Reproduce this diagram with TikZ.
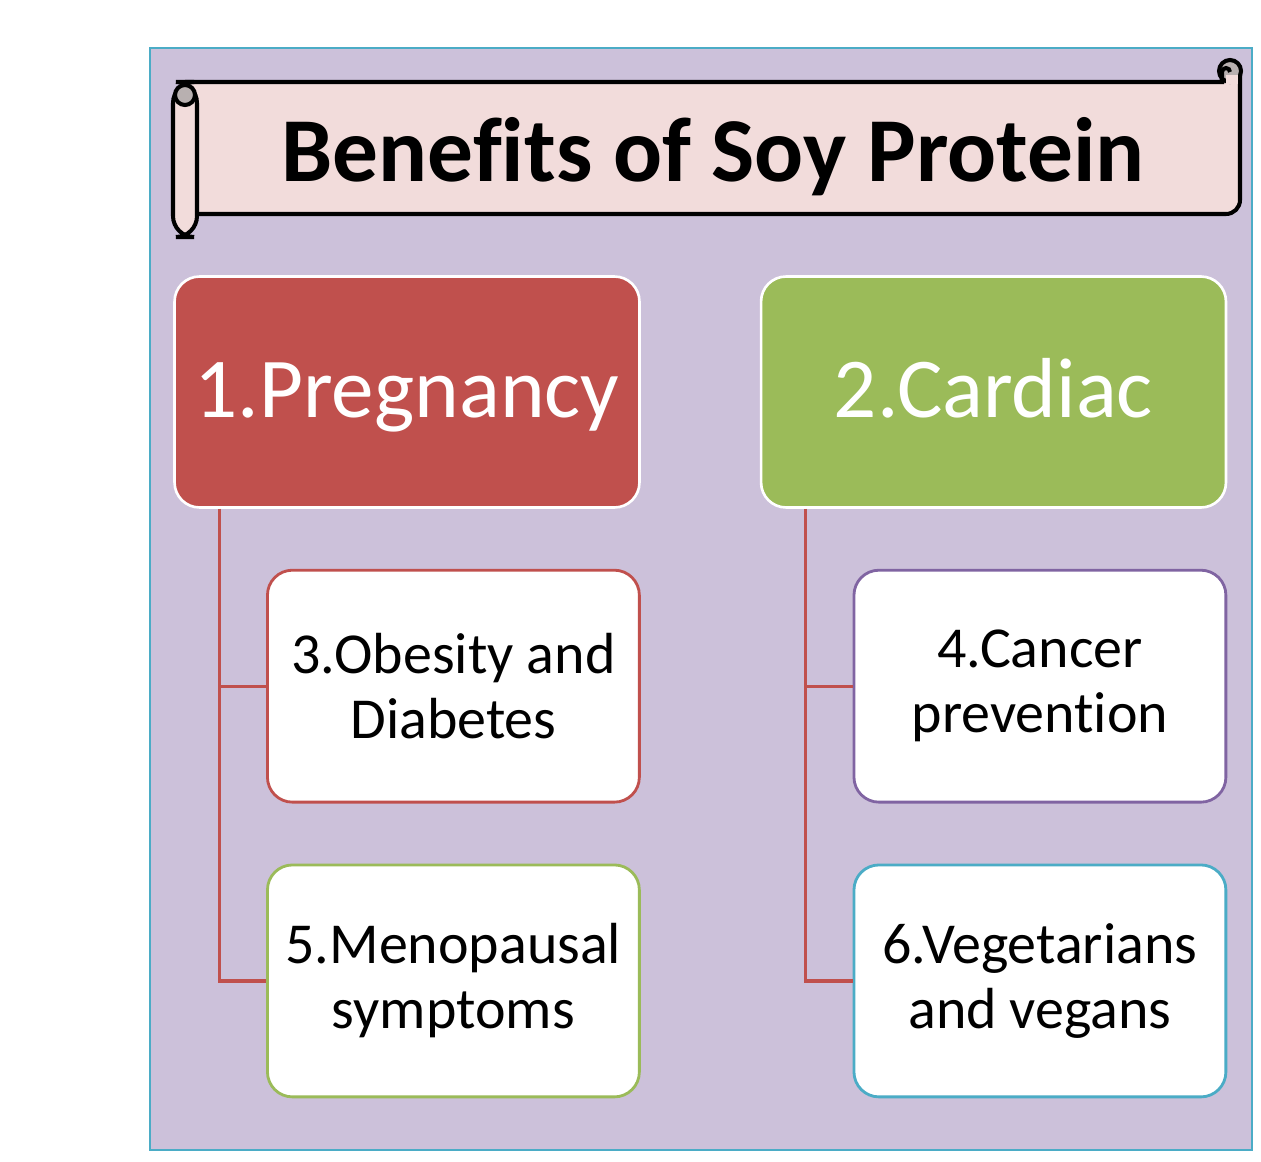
\documentclass[tikz,border=0pt]{standalone}
\usepackage{fontspec}
\setmainfont{Carlito}[Ligatures=CommonOff]
\usetikzlibrary{positioning,calc}
\definecolor{lavenda}{HTML}{CCC1DA}
\definecolor{cornice}{HTML}{4BACC6}
\definecolor{rosso}{HTML}{C0504D}
\definecolor{verde}{HTML}{9BBB59}
\definecolor{viola}{HTML}{8064A2}
\definecolor{rosa}{HTML}{F2DCDB}
\definecolor{grigio}{HTML}{B8B0B0}
\tikzset{main base/.style={rounded corners=0.5cm,text centered,align=center}, }
\tikzset{main node/.style={main base,draw=white,line width=1.5pt,
    minimum width=9.3cm,minimum height=4.62cm,text=white,
    text height=1.3cm,text depth=0.26cm,
    font=\fontsize{48.5}{54}\selectfont}, }
\tikzset{main node2/.style={main base,fill=white,line width=1.6pt,
    minimum width=7.44cm,minimum height=4.64cm,
    font=\fontsize{33}{37}\selectfont}, }
\tikzset{linea/.style={draw=rosso,line width=1.8pt}}
\tikzset{rotolo/.style={draw=black,line width=2.3pt,fill=rosa}}
\begin{document}
\begin{tikzpicture}[x=0.02cm,y=-0.02cm]
  \useasboundingbox (0,0) rectangle (1261,1162);
  % fondo
  \draw[fill=lavenda,draw=cornice,line width=1.2pt] (150,48) rectangle (1252,1150);
  % pergamena
  \draw[rotolo] (185,82) -- (1222,82) -- (1222,72) -- (1240,72) -- (1240,200)
     arc[start angle=0,end angle=90,radius=14] -- (197,214);
  \draw[line width=2.3pt,fill=grigio] (1230,71) circle (11);
  \fill[rosa] (1226,75) rectangle (1238,84);
  \draw[line width=2.3pt] (1222,84) -- (1222,72) arc[start angle=180,end angle=360,radius=4];
  \draw[rotolo,rounded corners=12] (173,82) rectangle (197,237);
  \draw[line width=2.3pt,fill=grigio] (185,95) circle (10);
  \node[anchor=base,font=\fontsize{52}{58}\selectfont\bfseries] (0) at (713,182) {Benefits of Soy Protein};
  %
  \node[main node,fill=rosso] (1) at (407,392) {1.Pregnancy};
  \node[main node,fill=verde] (2) [right=2.38cm of 1] {2.Cardiac};
  \node[main node2,draw=rosso] (3) [below=1.2cm of 1.south east,anchor=north east] {3.Obesity and\\Diabetes};
  \node[main node2,draw=verde] (5) [below=1.2cm of 3] {5.Menopausal\\symptoms};
  \node[main node2,draw=viola] (4) [below=1.2cm of 2.south east,anchor=north east] {4.Cancer\\prevention};
  \node[main node2,draw=cornice] (6) [below=1.2cm of 4] {6.Vegetarians\\and vegans};
  %
\foreach \x /\y in{1/3,1/5,2/4,2/6}
  \path[linea] ($(\x.south west)+(46,0)$) |- (\y.west);
\end{tikzpicture}
\end{document}
